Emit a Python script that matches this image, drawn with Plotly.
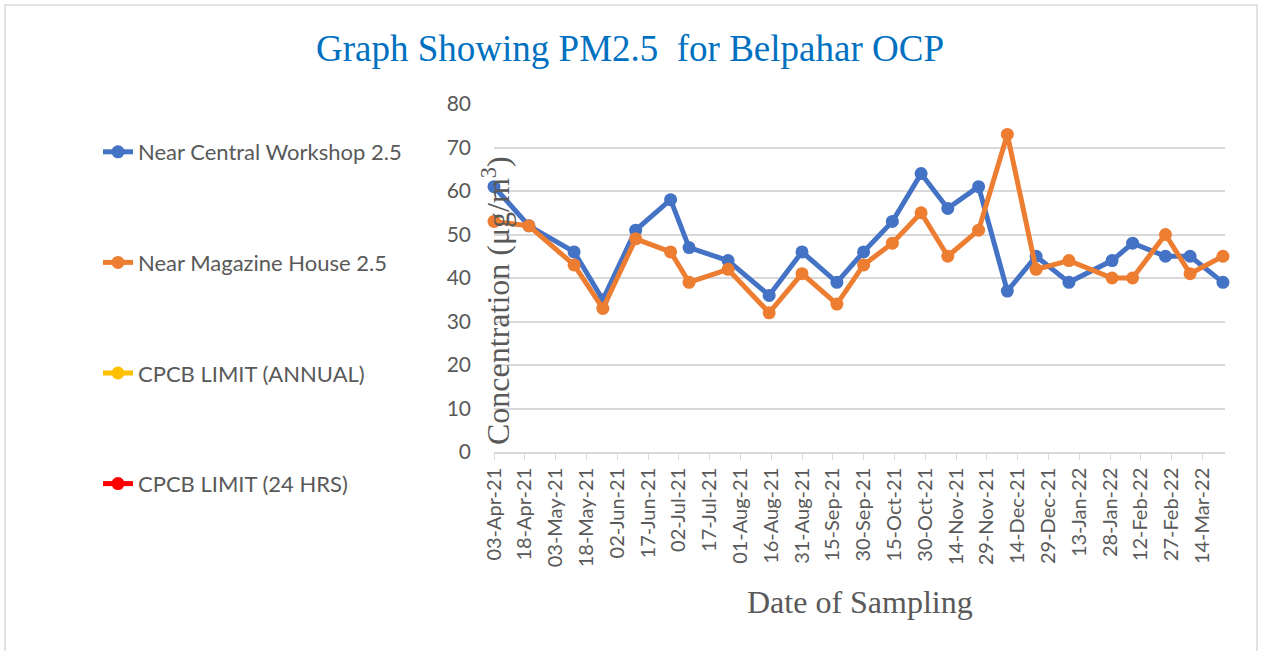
import plotly.graph_objects as go

dates = ["2021-04-03", "2021-04-20", "2021-05-12", "2021-05-26", "2021-06-11", "2021-06-28",
         "2021-07-07", "2021-07-26", "2021-08-15", "2021-08-31", "2021-09-17", "2021-09-30",
         "2021-10-14", "2021-10-28", "2021-11-10", "2021-11-25", "2021-12-09", "2021-12-23",
         "2022-01-08", "2022-01-29", "2022-02-08", "2022-02-24", "2022-03-08", "2022-03-24"]
central_workshop = [61, 52, 46, 35, 51, 58, 47, 44, 36, 46, 39, 46,
                    53, 64, 56, 61, 37, 45, 39, 44, 48, 45, 45, 39]
magazine_house = [53, 52, 43, 33, 49, 46, 39, 42, 32, 41, 34, 43,
                  48, 55, 45, 51, 73, 42, 44, 40, 40, 50, 41, 45]
limit_annual = []
limit_24hrs = []

W, H = 1261, 651
L, R, T, B = 494, 1225, 104, 452

fig = go.Figure()
series = [
    ("Near Central Workshop 2.5", central_workshop, "#4472C4"),
    ("Near Magazine House 2.5", magazine_house, "#ED7D31"),
    ("CPCB LIMIT (ANNUAL)", limit_annual, "#FFC000"),
    ("CPCB LIMIT (24 HRS)", limit_24hrs, "#FF0000"),
]
for i, (name, vals, col) in enumerate(series):
    if vals:
        x, y = dates, vals
    else:
        x, y = [None], [None]
    fig.add_trace(go.Scatter(
        x=x, y=y, name=name, mode="lines+markers",
        line=dict(color=col, width=5),
        marker=dict(color=col, size=13),
        legendgroup=f"g{i}", cliponaxis=False,
    ))

def px(xp):
    return (xp - L) / (R - L)

def py(yp):
    return 1 - (yp - T) / (B - T)

fig.update_layout(
    width=W, height=H,
    margin=dict(l=L, r=W - R, t=T, b=H - B),
    paper_bgcolor="white", plot_bgcolor="white",
    showlegend=True,
    title=dict(text="Graph Showing PM2.5  for Belpahar OCP", x=630 / W, xref="container",
               xanchor="center", y=1 - 48 / H, yanchor="middle",
               font=dict(family="Liberation Serif", size=37, color="#0070C0")),
    legend=dict(x=px(98), y=py(131), xanchor="left", yanchor="top",
                font=dict(family="Lato", size=22, color="#595959"),
                tracegroupgap=79, bgcolor="rgba(0,0,0,0)", maxheight=600),
    xaxis=dict(type="date", range=["2021-04-03", "2022-03-25"],
               tick0="2021-04-03", dtick=15 * 86400000, tickformat="%d-%b-%y",
               tickangle=-90, ticks="outside", ticklen=6, tickcolor="#D9D9D9",
               showgrid=False, showline=True, linecolor="#D9D9D9", linewidth=1.5,
               tickfont=dict(family="Lato", size=20, color="#595959"),
               zeroline=False),
    yaxis=dict(range=[0, 80], dtick=10, showgrid=True, gridcolor="#D9D9D9", gridwidth=1.5,
               zeroline=False, showline=False, ticks="", ticklabelstandoff=22,
               tickfont=dict(family="Lato", size=21, color="#595959")),
    annotations=[
        dict(text="Concentration (μg/m<sup>3</sup>)", textangle=-90, xref="paper", yref="paper",
             x=px(496), y=py(301), xanchor="center", yanchor="middle", showarrow=False,
             font=dict(family="Liberation Serif", size=32, color="#595959")),
        dict(text="Date of Sampling", xref="paper", yref="paper",
             x=px(860), y=py(602), xanchor="center", yanchor="middle", showarrow=False,
             font=dict(family="Liberation Serif", size=32, color="#595959")),
    ],
    shapes=[dict(type="rect", xref="paper", yref="paper",
                 x0=px(5), x1=px(1257), y0=py(660), y1=py(5),
                 line=dict(color="#D9D9D9", width=1.5), fillcolor="rgba(0,0,0,0)")],
)

fig.write_html("out.html", config={"displayModeBar": False},
               post_script="document.body.style.margin='0';")
